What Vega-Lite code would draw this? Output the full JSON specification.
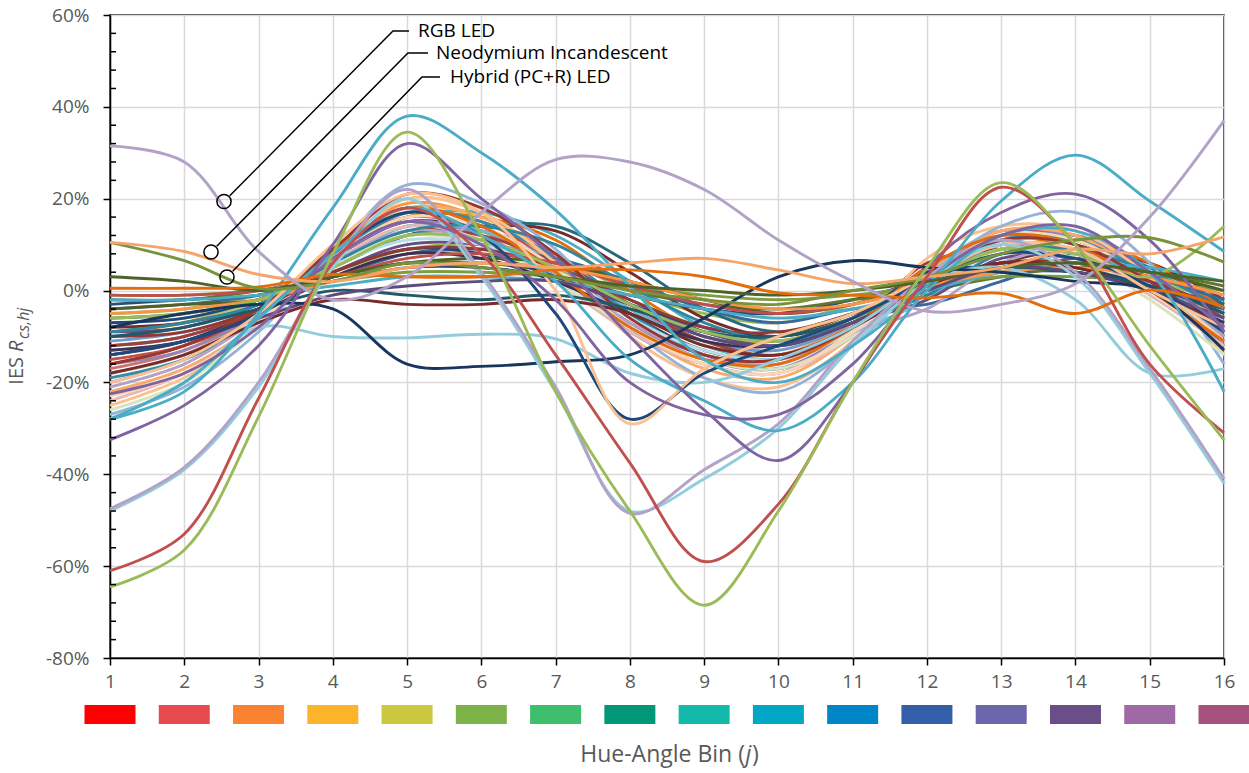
{
"$schema": "https://vega.github.io/schema/vega-lite/v6.json",
"width": 1114, "height": 643,
"autosize": {"type": "none"},
"padding": {"left": 110, "top": 15, "right": 25, "bottom": 115},
"background": "white",
"config": {"view": {"stroke": "black", "strokeWidth": 1.5}},
"datasets": {
"curves": [
{"s":1,"j":1,"v":-10},{"s":1,"j":2,"v":-8},{"s":1,"j":3,"v":-3},{"s":1,"j":4,"v":6},{"s":1,"j":5,"v":14},{"s":1,"j":6,"v":13},{"s":1,"j":7,"v":8},{"s":1,"j":8,"v":-3},{"s":1,"j":9,"v":-10},{"s":1,"j":10,"v":-12},{"s":1,"j":11,"v":-6},{"s":1,"j":12,"v":3},{"s":1,"j":13,"v":9},{"s":1,"j":14,"v":8},{"s":1,"j":15,"v":2},{"s":1,"j":16,"v":-6},
{"s":2,"j":1,"v":-15},{"s":2,"j":2,"v":-12},{"s":2,"j":3,"v":-5},{"s":2,"j":4,"v":8},{"s":2,"j":5,"v":17},{"s":2,"j":6,"v":15},{"s":2,"j":7,"v":6},{"s":2,"j":8,"v":-6},{"s":2,"j":9,"v":-14},{"s":2,"j":10,"v":-15},{"s":2,"j":11,"v":-7},{"s":2,"j":12,"v":5},{"s":2,"j":13,"v":12},{"s":2,"j":14,"v":10},{"s":2,"j":15,"v":3},{"s":2,"j":16,"v":-8},
{"s":3,"j":1,"v":-5},{"s":3,"j":2,"v":-4},{"s":3,"j":3,"v":-1},{"s":3,"j":4,"v":4},{"s":3,"j":5,"v":9},{"s":3,"j":6,"v":10},{"s":3,"j":7,"v":7},{"s":3,"j":8,"v":0},{"s":3,"j":9,"v":-5},{"s":3,"j":10,"v":-7},{"s":3,"j":11,"v":-3},{"s":3,"j":12,"v":2},{"s":3,"j":13,"v":6},{"s":3,"j":14,"v":6},{"s":3,"j":15,"v":2},{"s":3,"j":16,"v":-2},
{"s":4,"j":1,"v":-20},{"s":4,"j":2,"v":-15},{"s":4,"j":3,"v":-6},{"s":4,"j":4,"v":9},{"s":4,"j":5,"v":18},{"s":4,"j":6,"v":14},{"s":4,"j":7,"v":4},{"s":4,"j":8,"v":-9},{"s":4,"j":9,"v":-16},{"s":4,"j":10,"v":-18},{"s":4,"j":11,"v":-9},{"s":4,"j":12,"v":4},{"s":4,"j":13,"v":13},{"s":4,"j":14,"v":11},{"s":4,"j":15,"v":2},{"s":4,"j":16,"v":-12},
{"s":5,"j":1,"v":-12},{"s":5,"j":2,"v":-10},{"s":5,"j":3,"v":-4},{"s":5,"j":4,"v":7},{"s":5,"j":5,"v":16},{"s":5,"j":6,"v":17},{"s":5,"j":7,"v":12},{"s":5,"j":8,"v":2},{"s":5,"j":9,"v":-8},{"s":5,"j":10,"v":-12},{"s":5,"j":11,"v":-7},{"s":5,"j":12,"v":1},{"s":5,"j":13,"v":10},{"s":5,"j":14,"v":12},{"s":5,"j":15,"v":5},{"s":5,"j":16,"v":-5},
{"s":6,"j":1,"v":-18},{"s":6,"j":2,"v":-14},{"s":6,"j":3,"v":-5},{"s":6,"j":4,"v":9},{"s":6,"j":5,"v":19},{"s":6,"j":6,"v":16},{"s":6,"j":7,"v":8},{"s":6,"j":8,"v":-4},{"s":6,"j":9,"v":-12},{"s":6,"j":10,"v":-14},{"s":6,"j":11,"v":-7},{"s":6,"j":12,"v":4},{"s":6,"j":13,"v":13},{"s":6,"j":14,"v":12},{"s":6,"j":15,"v":4},{"s":6,"j":16,"v":-9},
{"s":7,"j":1,"v":-3},{"s":7,"j":2,"v":-2},{"s":7,"j":3,"v":-1},{"s":7,"j":4,"v":2},{"s":7,"j":5,"v":5},{"s":7,"j":6,"v":5},{"s":7,"j":7,"v":3},{"s":7,"j":8,"v":-1},{"s":7,"j":9,"v":-4},{"s":7,"j":10,"v":-5},{"s":7,"j":11,"v":-2},{"s":7,"j":12,"v":2},{"s":7,"j":13,"v":4},{"s":7,"j":14,"v":4},{"s":7,"j":15,"v":1},{"s":7,"j":16,"v":-3},
{"s":8,"j":1,"v":-8},{"s":8,"j":2,"v":-7},{"s":8,"j":3,"v":-3},{"s":8,"j":4,"v":5},{"s":8,"j":5,"v":12},{"s":8,"j":6,"v":14},{"s":8,"j":7,"v":13},{"s":8,"j":8,"v":4},{"s":8,"j":9,"v":-6},{"s":8,"j":10,"v":-10},{"s":8,"j":11,"v":-5},{"s":8,"j":12,"v":1},{"s":8,"j":13,"v":6},{"s":8,"j":14,"v":9},{"s":8,"j":15,"v":6},{"s":8,"j":16,"v":-2},
{"s":9,"j":1,"v":-2},{"s":9,"j":2,"v":-2},{"s":9,"j":3,"v":0},{"s":9,"j":4,"v":3},{"s":9,"j":5,"v":6},{"s":9,"j":6,"v":6},{"s":9,"j":7,"v":4},{"s":9,"j":8,"v":0},{"s":9,"j":9,"v":-3},{"s":9,"j":10,"v":-4},{"s":9,"j":11,"v":-2},{"s":9,"j":12,"v":0},{"s":9,"j":13,"v":3},{"s":9,"j":14,"v":5},{"s":9,"j":15,"v":4},{"s":9,"j":16,"v":1},
{"s":10,"j":1,"v":-14},{"s":10,"j":2,"v":-11},{"s":10,"j":3,"v":-4},{"s":10,"j":4,"v":7},{"s":10,"j":5,"v":15},{"s":10,"j":6,"v":13},{"s":10,"j":7,"v":6},{"s":10,"j":8,"v":-5},{"s":10,"j":9,"v":-13},{"s":10,"j":10,"v":-15},{"s":10,"j":11,"v":-8},{"s":10,"j":12,"v":3},{"s":10,"j":13,"v":10},{"s":10,"j":14,"v":9},{"s":10,"j":15,"v":2},{"s":10,"j":16,"v":-9},
{"s":11,"j":1,"v":-6},{"s":11,"j":2,"v":-5},{"s":11,"j":3,"v":-2},{"s":11,"j":4,"v":5},{"s":11,"j":5,"v":12},{"s":11,"j":6,"v":14},{"s":11,"j":7,"v":14},{"s":11,"j":8,"v":6},{"s":11,"j":9,"v":-4},{"s":11,"j":10,"v":-9},{"s":11,"j":11,"v":-5},{"s":11,"j":12,"v":-1},{"s":11,"j":13,"v":5},{"s":11,"j":14,"v":8},{"s":11,"j":15,"v":5},{"s":11,"j":16,"v":-3},
{"s":12,"j":1,"v":-9},{"s":12,"j":2,"v":-7},{"s":12,"j":3,"v":-2},{"s":12,"j":4,"v":7},{"s":12,"j":5,"v":16},{"s":12,"j":6,"v":16},{"s":12,"j":7,"v":11},{"s":12,"j":8,"v":0},{"s":12,"j":9,"v":-9},{"s":12,"j":10,"v":-11},{"s":12,"j":11,"v":-6},{"s":12,"j":12,"v":3},{"s":12,"j":13,"v":9},{"s":12,"j":14,"v":11},{"s":12,"j":15,"v":6},{"s":12,"j":16,"v":-4},
{"s":13,"j":1,"v":-11},{"s":13,"j":2,"v":-9},{"s":13,"j":3,"v":-4},{"s":13,"j":4,"v":5},{"s":13,"j":5,"v":12},{"s":13,"j":6,"v":11},{"s":13,"j":7,"v":5},{"s":13,"j":8,"v":-4},{"s":13,"j":9,"v":-11},{"s":13,"j":10,"v":-13},{"s":13,"j":11,"v":-7},{"s":13,"j":12,"v":2},{"s":13,"j":13,"v":9},{"s":13,"j":14,"v":8},{"s":13,"j":15,"v":2},{"s":13,"j":16,"v":-7},
{"s":14,"j":1,"v":-17},{"s":14,"j":2,"v":-13},{"s":14,"j":3,"v":-5},{"s":14,"j":4,"v":8},{"s":14,"j":5,"v":16},{"s":14,"j":6,"v":13},{"s":14,"j":7,"v":4},{"s":14,"j":8,"v":-7},{"s":14,"j":9,"v":-15},{"s":14,"j":10,"v":-16},{"s":14,"j":11,"v":-8},{"s":14,"j":12,"v":5},{"s":14,"j":13,"v":11},{"s":14,"j":14,"v":10},{"s":14,"j":15,"v":1},{"s":14,"j":16,"v":-11},
{"s":15,"j":1,"v":-7},{"s":15,"j":2,"v":-6},{"s":15,"j":3,"v":-3},{"s":15,"j":4,"v":3},{"s":15,"j":5,"v":8},{"s":15,"j":6,"v":8},{"s":15,"j":7,"v":4},{"s":15,"j":8,"v":-2},{"s":15,"j":9,"v":-8},{"s":15,"j":10,"v":-10},{"s":15,"j":11,"v":-6},{"s":15,"j":12,"v":0},{"s":15,"j":13,"v":6},{"s":15,"j":14,"v":5},{"s":15,"j":15,"v":0},{"s":15,"j":16,"v":-5},
{"s":16,"j":1,"v":-16},{"s":16,"j":2,"v":-13},{"s":16,"j":3,"v":-5},{"s":16,"j":4,"v":7},{"s":16,"j":5,"v":15},{"s":16,"j":6,"v":12},{"s":16,"j":7,"v":3},{"s":16,"j":8,"v":-7},{"s":16,"j":9,"v":-15},{"s":16,"j":10,"v":-17},{"s":16,"j":11,"v":-9},{"s":16,"j":12,"v":2},{"s":16,"j":13,"v":11},{"s":16,"j":14,"v":12},{"s":16,"j":15,"v":3},{"s":16,"j":16,"v":-10},
{"s":17,"j":1,"v":-13},{"s":17,"j":2,"v":-11},{"s":17,"j":3,"v":-5},{"s":17,"j":4,"v":6},{"s":17,"j":5,"v":14},{"s":17,"j":6,"v":13},{"s":17,"j":7,"v":6},{"s":17,"j":8,"v":-4},{"s":17,"j":9,"v":-12},{"s":17,"j":10,"v":-15},{"s":17,"j":11,"v":-9},{"s":17,"j":12,"v":-2},{"s":17,"j":13,"v":10},{"s":17,"j":14,"v":11},{"s":17,"j":15,"v":3},{"s":17,"j":16,"v":-8},
{"s":18,"j":1,"v":-22},{"s":18,"j":2,"v":-17},{"s":18,"j":3,"v":-7},{"s":18,"j":4,"v":8},{"s":18,"j":5,"v":18},{"s":18,"j":6,"v":16},{"s":18,"j":7,"v":6},{"s":18,"j":8,"v":-8},{"s":18,"j":9,"v":-17},{"s":18,"j":10,"v":-19},{"s":18,"j":11,"v":-10},{"s":18,"j":12,"v":4},{"s":18,"j":13,"v":13},{"s":18,"j":14,"v":12},{"s":18,"j":15,"v":2},{"s":18,"j":16,"v":-13},
{"s":19,"j":1,"v":-4},{"s":19,"j":2,"v":-3},{"s":19,"j":3,"v":-1},{"s":19,"j":4,"v":3},{"s":19,"j":5,"v":8},{"s":19,"j":6,"v":9},{"s":19,"j":7,"v":7},{"s":19,"j":8,"v":2},{"s":19,"j":9,"v":-4},{"s":19,"j":10,"v":-7},{"s":19,"j":11,"v":-4},{"s":19,"j":12,"v":-3},{"s":19,"j":13,"v":2},{"s":19,"j":14,"v":7},{"s":19,"j":15,"v":3},{"s":19,"j":16,"v":-2},
{"s":20,"j":1,"v":-12},{"s":20,"j":2,"v":-10},{"s":20,"j":3,"v":-4},{"s":20,"j":4,"v":6},{"s":20,"j":5,"v":13},{"s":20,"j":6,"v":12},{"s":20,"j":7,"v":6},{"s":20,"j":8,"v":-3},{"s":20,"j":9,"v":-11},{"s":20,"j":10,"v":-14},{"s":20,"j":11,"v":-8},{"s":20,"j":12,"v":6},{"s":20,"j":13,"v":9},{"s":20,"j":14,"v":9},{"s":20,"j":15,"v":3},{"s":20,"j":16,"v":-6},
{"s":21,"j":1,"v":-1},{"s":21,"j":2,"v":-1},{"s":21,"j":3,"v":0},{"s":21,"j":4,"v":2},{"s":21,"j":5,"v":4},{"s":21,"j":6,"v":4},{"s":21,"j":7,"v":3},{"s":21,"j":8,"v":1},{"s":21,"j":9,"v":-1},{"s":21,"j":10,"v":-2},{"s":21,"j":11,"v":-1},{"s":21,"j":12,"v":1},{"s":21,"j":13,"v":3},{"s":21,"j":14,"v":3},{"s":21,"j":15,"v":2},{"s":21,"j":16,"v":0},
{"s":22,"j":1,"v":-9},{"s":22,"j":2,"v":-8},{"s":22,"j":3,"v":-3},{"s":22,"j":4,"v":4},{"s":22,"j":5,"v":10},{"s":22,"j":6,"v":10},{"s":22,"j":7,"v":6},{"s":22,"j":8,"v":-2},{"s":22,"j":9,"v":-9},{"s":22,"j":10,"v":-12},{"s":22,"j":11,"v":-7},{"s":22,"j":12,"v":-2},{"s":22,"j":13,"v":7},{"s":22,"j":14,"v":7},{"s":22,"j":15,"v":2},{"s":22,"j":16,"v":-5},
{"s":23,"j":1,"v":-19},{"s":23,"j":2,"v":-15},{"s":23,"j":3,"v":-6},{"s":23,"j":4,"v":7},{"s":23,"j":5,"v":17},{"s":23,"j":6,"v":15},{"s":23,"j":7,"v":7},{"s":23,"j":8,"v":-5},{"s":23,"j":9,"v":-14},{"s":23,"j":10,"v":-17},{"s":23,"j":11,"v":-10},{"s":23,"j":12,"v":2},{"s":23,"j":13,"v":11},{"s":23,"j":14,"v":11},{"s":23,"j":15,"v":3},{"s":23,"j":16,"v":-10},
{"s":24,"j":1,"v":-25},{"s":24,"j":2,"v":-19},{"s":24,"j":3,"v":-8},{"s":24,"j":4,"v":7},{"s":24,"j":5,"v":20},{"s":24,"j":6,"v":17},{"s":24,"j":7,"v":6},{"s":24,"j":8,"v":-10},{"s":24,"j":9,"v":-19},{"s":24,"j":10,"v":-21},{"s":24,"j":11,"v":-11},{"s":24,"j":12,"v":7},{"s":24,"j":13,"v":14},{"s":24,"j":14,"v":13},{"s":24,"j":15,"v":3},{"s":24,"j":16,"v":-14},
{"s":25,"j":1,"v":-27},{"s":25,"j":2,"v":-21},{"s":25,"j":3,"v":-9},{"s":25,"j":4,"v":8},{"s":25,"j":5,"v":23},{"s":25,"j":6,"v":19},{"s":25,"j":7,"v":9},{"s":25,"j":8,"v":-8},{"s":25,"j":9,"v":-19},{"s":25,"j":10,"v":-22},{"s":25,"j":11,"v":-12},{"s":25,"j":12,"v":3},{"s":25,"j":13,"v":14},{"s":25,"j":14,"v":17},{"s":25,"j":15,"v":6},{"s":25,"j":16,"v":-16},
{"s":26,"j":1,"v":-24},{"s":26,"j":2,"v":-18},{"s":26,"j":3,"v":-7},{"s":26,"j":4,"v":6},{"s":26,"j":5,"v":14},{"s":26,"j":6,"v":11},{"s":26,"j":7,"v":2},{"s":26,"j":8,"v":-9},{"s":26,"j":9,"v":-16},{"s":26,"j":10,"v":-18},{"s":26,"j":11,"v":-10},{"s":26,"j":12,"v":2},{"s":26,"j":13,"v":10},{"s":26,"j":14,"v":8},{"s":26,"j":15,"v":-1},{"s":26,"j":16,"v":-12},
{"s":27,"j":1,"v":-26},{"s":27,"j":2,"v":-20},{"s":27,"j":3,"v":-8},{"s":27,"j":4,"v":5},{"s":27,"j":5,"v":12},{"s":27,"j":6,"v":10},{"s":27,"j":7,"v":2},{"s":27,"j":8,"v":-8},{"s":27,"j":9,"v":-15},{"s":27,"j":10,"v":-17},{"s":27,"j":11,"v":-10},{"s":27,"j":12,"v":1},{"s":27,"j":13,"v":9},{"s":27,"j":14,"v":7},{"s":27,"j":15,"v":-2},{"s":27,"j":16,"v":-14},
{"s":28,"j":1,"v":-21},{"s":28,"j":2,"v":-16},{"s":28,"j":3,"v":-6},{"s":28,"j":4,"v":6},{"s":28,"j":5,"v":13},{"s":28,"j":6,"v":11},{"s":28,"j":7,"v":3},{"s":28,"j":8,"v":-7},{"s":28,"j":9,"v":-14},{"s":28,"j":10,"v":-16},{"s":28,"j":11,"v":-9},{"s":28,"j":12,"v":-4},{"s":28,"j":13,"v":6},{"s":28,"j":14,"v":9},{"s":28,"j":15,"v":1},{"s":28,"j":16,"v":-10},
{"s":29,"j":1,"v":-18},{"s":29,"j":2,"v":-14},{"s":29,"j":3,"v":-6},{"s":29,"j":4,"v":5},{"s":29,"j":5,"v":11},{"s":29,"j":6,"v":10},{"s":29,"j":7,"v":4},{"s":29,"j":8,"v":-6},{"s":29,"j":9,"v":-13},{"s":29,"j":10,"v":-15},{"s":29,"j":11,"v":-9},{"s":29,"j":12,"v":1},{"s":29,"j":13,"v":8},{"s":29,"j":14,"v":8},{"s":29,"j":15,"v":1},{"s":29,"j":16,"v":-9},
{"s":30,"j":1,"v":-23},{"s":30,"j":2,"v":-18},{"s":30,"j":3,"v":-7},{"s":30,"j":4,"v":7},{"s":30,"j":5,"v":16},{"s":30,"j":6,"v":14},{"s":30,"j":7,"v":5},{"s":30,"j":8,"v":-8},{"s":30,"j":9,"v":-16},{"s":30,"j":10,"v":-18},{"s":30,"j":11,"v":-9},{"s":30,"j":12,"v":3},{"s":30,"j":13,"v":12},{"s":30,"j":14,"v":11},{"s":30,"j":15,"v":2},{"s":30,"j":16,"v":-11},
{"s":31,"j":1,"v":-7},{"s":31,"j":2,"v":-6},{"s":31,"j":3,"v":-2},{"s":31,"j":4,"v":4},{"s":31,"j":5,"v":9},{"s":31,"j":6,"v":8},{"s":31,"j":7,"v":3},{"s":31,"j":8,"v":-3},{"s":31,"j":9,"v":-8},{"s":31,"j":10,"v":-10},{"s":31,"j":11,"v":-6},{"s":31,"j":12,"v":4},{"s":31,"j":13,"v":5},{"s":31,"j":14,"v":5},{"s":31,"j":15,"v":1},{"s":31,"j":16,"v":-4},
{"s":32,"j":1,"v":-10},{"s":32,"j":2,"v":-9},{"s":32,"j":3,"v":-4},{"s":32,"j":4,"v":4},{"s":32,"j":5,"v":9},{"s":32,"j":6,"v":9},{"s":32,"j":7,"v":5},{"s":32,"j":8,"v":-2},{"s":32,"j":9,"v":-8},{"s":32,"j":10,"v":-9},{"s":32,"j":11,"v":-5},{"s":32,"j":12,"v":2},{"s":32,"j":13,"v":6},{"s":32,"j":14,"v":6},{"s":32,"j":15,"v":2},{"s":32,"j":16,"v":-4},
{"s":33,"j":1,"v":-4},{"s":33,"j":2,"v":-3},{"s":33,"j":3,"v":-2},{"s":33,"j":4,"v":3},{"s":33,"j":5,"v":6},{"s":33,"j":6,"v":7},{"s":33,"j":7,"v":6},{"s":33,"j":8,"v":2},{"s":33,"j":9,"v":-2},{"s":33,"j":10,"v":-5},{"s":33,"j":11,"v":-3},{"s":33,"j":12,"v":1},{"s":33,"j":13,"v":5},{"s":33,"j":14,"v":6},{"s":33,"j":15,"v":4},{"s":33,"j":16,"v":0},
{"s":34,"j":1,"v":-13},{"s":34,"j":2,"v":-11},{"s":34,"j":3,"v":-5},{"s":34,"j":4,"v":3},{"s":34,"j":5,"v":8},{"s":34,"j":6,"v":7},{"s":34,"j":7,"v":2},{"s":34,"j":8,"v":-5},{"s":34,"j":9,"v":-11},{"s":34,"j":10,"v":-12},{"s":34,"j":11,"v":-7},{"s":34,"j":12,"v":1},{"s":34,"j":13,"v":6},{"s":34,"j":14,"v":5},{"s":34,"j":15,"v":0},{"s":34,"j":16,"v":-7},
{"s":35,"j":1,"v":-9},{"s":35,"j":2,"v":-7},{"s":35,"j":3,"v":-3},{"s":35,"j":4,"v":6},{"s":35,"j":5,"v":13},{"s":35,"j":6,"v":14},{"s":35,"j":7,"v":10},{"s":35,"j":8,"v":1},{"s":35,"j":9,"v":-7},{"s":35,"j":10,"v":-11},{"s":35,"j":11,"v":-7},{"s":35,"j":12,"v":-1},{"s":35,"j":13,"v":8},{"s":35,"j":14,"v":9},{"s":35,"j":15,"v":4},{"s":35,"j":16,"v":-4},
{"s":36,"j":1,"v":-16},{"s":36,"j":2,"v":-12},{"s":36,"j":3,"v":-4},{"s":36,"j":4,"v":9},{"s":36,"j":5,"v":18},{"s":36,"j":6,"v":14},{"s":36,"j":7,"v":4},{"s":36,"j":8,"v":-8},{"s":36,"j":9,"v":-15},{"s":36,"j":10,"v":-16},{"s":36,"j":11,"v":-8},{"s":36,"j":12,"v":5},{"s":36,"j":13,"v":12},{"s":36,"j":14,"v":10},{"s":36,"j":15,"v":0},{"s":36,"j":16,"v":-11},
{"s":37,"j":1,"v":-1},{"s":37,"j":2,"v":-1},{"s":37,"j":3,"v":0},{"s":37,"j":4,"v":3},{"s":37,"j":5,"v":7},{"s":37,"j":6,"v":8},{"s":37,"j":7,"v":6},{"s":37,"j":8,"v":1},{"s":37,"j":9,"v":-3},{"s":37,"j":10,"v":-5},{"s":37,"j":11,"v":-3},{"s":37,"j":12,"v":1},{"s":37,"j":13,"v":5},{"s":37,"j":14,"v":6},{"s":37,"j":15,"v":3},{"s":37,"j":16,"v":-1},
{"s":38,"j":1,"v":-2},{"s":38,"j":2,"v":-2},{"s":38,"j":3,"v":-1},{"s":38,"j":4,"v":1},{"s":38,"j":5,"v":3},{"s":38,"j":6,"v":3},{"s":38,"j":7,"v":2},{"s":38,"j":8,"v":-1},{"s":38,"j":9,"v":-4},{"s":38,"j":10,"v":-6},{"s":38,"j":11,"v":-4},{"s":38,"j":12,"v":0},{"s":38,"j":13,"v":4},{"s":38,"j":14,"v":6},{"s":38,"j":15,"v":5},{"s":38,"j":16,"v":2},
{"s":39,"j":1,"v":-5},{"s":39,"j":2,"v":-4},{"s":39,"j":3,"v":-2},{"s":39,"j":4,"v":2},{"s":39,"j":5,"v":5},{"s":39,"j":6,"v":6},{"s":39,"j":7,"v":5},{"s":39,"j":8,"v":2},{"s":39,"j":9,"v":-2},{"s":39,"j":10,"v":-4},{"s":39,"j":11,"v":-3},{"s":39,"j":12,"v":1},{"s":39,"j":13,"v":4},{"s":39,"j":14,"v":5},{"s":39,"j":15,"v":3},{"s":39,"j":16,"v":-1},
{"s":40,"j":1,"v":-16},{"s":40,"j":2,"v":-12},{"s":40,"j":3,"v":-4},{"s":40,"j":4,"v":9},{"s":40,"j":5,"v":21},{"s":40,"j":6,"v":18},{"s":40,"j":7,"v":8},{"s":40,"j":8,"v":-6},{"s":40,"j":9,"v":-14},{"s":40,"j":10,"v":-15},{"s":40,"j":11,"v":-8},{"s":40,"j":12,"v":3},{"s":40,"j":13,"v":11},{"s":40,"j":14,"v":10},{"s":40,"j":15,"v":2},{"s":40,"j":16,"v":-9},
{"s":41,"j":1,"v":-18},{"s":41,"j":2,"v":-14},{"s":41,"j":3,"v":-7},{"s":41,"j":4,"v":-2},{"s":41,"j":5,"v":-3},{"s":41,"j":6,"v":-3},{"s":41,"j":7,"v":-2},{"s":41,"j":8,"v":-5},{"s":41,"j":9,"v":-12},{"s":41,"j":10,"v":-14},{"s":41,"j":11,"v":-8},{"s":41,"j":12,"v":1},{"s":41,"j":13,"v":6},{"s":41,"j":14,"v":5},{"s":41,"j":15,"v":0},{"s":41,"j":16,"v":-8},
{"s":42,"j":1,"v":-10},{"s":42,"j":2,"v":-8},{"s":42,"j":3,"v":-4},{"s":42,"j":4,"v":0},{"s":42,"j":5,"v":-1},{"s":42,"j":6,"v":-2},{"s":42,"j":7,"v":-1},{"s":42,"j":8,"v":-4},{"s":42,"j":9,"v":-9},{"s":42,"j":10,"v":-10},{"s":42,"j":11,"v":-6},{"s":42,"j":12,"v":2},{"s":42,"j":13,"v":5},{"s":42,"j":14,"v":4},{"s":42,"j":15,"v":1},{"s":42,"j":16,"v":-5},
{"s":43,"j":1,"v":-14},{"s":43,"j":2,"v":-11},{"s":43,"j":3,"v":-6},{"s":43,"j":4,"v":-1},{"s":43,"j":5,"v":1},{"s":43,"j":6,"v":2},{"s":43,"j":7,"v":2},{"s":43,"j":8,"v":-3},{"s":43,"j":9,"v":-10},{"s":43,"j":10,"v":-12},{"s":43,"j":11,"v":-7},{"s":43,"j":12,"v":0},{"s":43,"j":13,"v":5},{"s":43,"j":14,"v":4},{"s":43,"j":15,"v":0},{"s":43,"j":16,"v":-6},
{"s":44,"j":1,"v":-6},{"s":44,"j":2,"v":-5},{"s":44,"j":3,"v":-2},{"s":44,"j":4,"v":5},{"s":44,"j":5,"v":12},{"s":44,"j":6,"v":11},{"s":44,"j":7,"v":5},{"s":44,"j":8,"v":-3},{"s":44,"j":9,"v":-9},{"s":44,"j":10,"v":-11},{"s":44,"j":11,"v":-6},{"s":44,"j":12,"v":2},{"s":44,"j":13,"v":9},{"s":44,"j":14,"v":8},{"s":44,"j":15,"v":3},{"s":44,"j":16,"v":14},
{"s":45,"j":1,"v":-28},{"s":45,"j":2,"v":-20},{"s":45,"j":3,"v":-8},{"s":45,"j":4,"v":-10},{"s":45,"j":5,"v":-10.3},{"s":45,"j":6,"v":-9.5},{"s":45,"j":7,"v":-10.5},{"s":45,"j":8,"v":-18},{"s":45,"j":9,"v":-20},{"s":45,"j":10,"v":-15},{"s":45,"j":11,"v":-8},{"s":45,"j":12,"v":2},{"s":45,"j":13,"v":5},{"s":45,"j":14,"v":-2},{"s":45,"j":15,"v":-18},{"s":45,"j":16,"v":-17},
{"s":46,"j":1,"v":-8},{"s":46,"j":2,"v":-5},{"s":46,"j":3,"v":-3},{"s":46,"j":4,"v":-4},{"s":46,"j":5,"v":-16},{"s":46,"j":6,"v":-16.5},{"s":46,"j":7,"v":-15.5},{"s":46,"j":8,"v":-14},{"s":46,"j":9,"v":-6},{"s":46,"j":10,"v":3},{"s":46,"j":11,"v":6.5},{"s":46,"j":12,"v":5},{"s":46,"j":13,"v":4},{"s":46,"j":14,"v":2},{"s":46,"j":15,"v":0},{"s":46,"j":16,"v":-13},
{"s":47,"j":1,"v":-14},{"s":47,"j":2,"v":-11},{"s":47,"j":3,"v":-5},{"s":47,"j":4,"v":8},{"s":47,"j":5,"v":17},{"s":47,"j":6,"v":12},{"s":47,"j":7,"v":-5},{"s":47,"j":8,"v":-28},{"s":47,"j":9,"v":-18},{"s":47,"j":10,"v":-12},{"s":47,"j":11,"v":-6},{"s":47,"j":12,"v":2},{"s":47,"j":13,"v":8},{"s":47,"j":14,"v":7},{"s":47,"j":15,"v":1},{"s":47,"j":16,"v":-9},
{"s":48,"j":1,"v":-20},{"s":48,"j":2,"v":-15},{"s":48,"j":3,"v":-5},{"s":48,"j":4,"v":10},{"s":48,"j":5,"v":21},{"s":48,"j":6,"v":17},{"s":48,"j":7,"v":0},{"s":48,"j":8,"v":-29},{"s":48,"j":9,"v":-17},{"s":48,"j":10,"v":-10},{"s":48,"j":11,"v":-5},{"s":48,"j":12,"v":3},{"s":48,"j":13,"v":10},{"s":48,"j":14,"v":9},{"s":48,"j":15,"v":0},{"s":48,"j":16,"v":-8},
{"s":49,"j":1,"v":-48},{"s":49,"j":2,"v":-39},{"s":49,"j":3,"v":-21},{"s":49,"j":4,"v":5},{"s":49,"j":5,"v":20},{"s":49,"j":6,"v":3},{"s":49,"j":7,"v":-22},{"s":49,"j":8,"v":-48},{"s":49,"j":9,"v":-41},{"s":49,"j":10,"v":-30},{"s":49,"j":11,"v":-12},{"s":49,"j":12,"v":2},{"s":49,"j":13,"v":10},{"s":49,"j":14,"v":3},{"s":49,"j":15,"v":-18},{"s":49,"j":16,"v":-42},
{"s":50,"j":1,"v":-47.5},{"s":50,"j":2,"v":-38.5},{"s":50,"j":3,"v":-20},{"s":50,"j":4,"v":6},{"s":50,"j":5,"v":22},{"s":50,"j":6,"v":4},{"s":50,"j":7,"v":-21},{"s":50,"j":8,"v":-48.5},{"s":50,"j":9,"v":-39},{"s":50,"j":10,"v":-29},{"s":50,"j":11,"v":-11},{"s":50,"j":12,"v":3},{"s":50,"j":13,"v":11},{"s":50,"j":14,"v":4},{"s":50,"j":15,"v":-17},{"s":50,"j":16,"v":-41},
{"s":51,"j":1,"v":-28},{"s":51,"j":2,"v":-20},{"s":51,"j":3,"v":-6},{"s":51,"j":4,"v":8},{"s":51,"j":5,"v":18},{"s":51,"j":6,"v":12},{"s":51,"j":7,"v":2},{"s":51,"j":8,"v":-15},{"s":51,"j":9,"v":-24},{"s":51,"j":10,"v":-30.5},{"s":51,"j":11,"v":-20},{"s":51,"j":12,"v":0},{"s":51,"j":13,"v":12},{"s":51,"j":14,"v":13},{"s":51,"j":15,"v":4},{"s":51,"j":16,"v":-22},
{"s":52,"j":1,"v":-22.5},{"s":52,"j":2,"v":-18},{"s":52,"j":3,"v":-8},{"s":52,"j":4,"v":7},{"s":52,"j":5,"v":15},{"s":52,"j":6,"v":10},{"s":52,"j":7,"v":-2},{"s":52,"j":8,"v":-20},{"s":52,"j":9,"v":-27},{"s":52,"j":10,"v":-27},{"s":52,"j":11,"v":-16},{"s":52,"j":12,"v":2},{"s":52,"j":13,"v":12},{"s":52,"j":14,"v":14},{"s":52,"j":15,"v":4},{"s":52,"j":16,"v":-8},
{"s":53,"j":1,"v":-32.5},{"s":53,"j":2,"v":-25},{"s":53,"j":3,"v":-12},{"s":53,"j":4,"v":10},{"s":53,"j":5,"v":32},{"s":53,"j":6,"v":20},{"s":53,"j":7,"v":7},{"s":53,"j":8,"v":-10},{"s":53,"j":9,"v":-26},{"s":53,"j":10,"v":-37},{"s":53,"j":11,"v":-20},{"s":53,"j":12,"v":5},{"s":53,"j":13,"v":17},{"s":53,"j":14,"v":21},{"s":53,"j":15,"v":11},{"s":53,"j":16,"v":-9},
{"s":54,"j":1,"v":-28},{"s":54,"j":2,"v":-22},{"s":54,"j":3,"v":-5},{"s":54,"j":4,"v":18},{"s":54,"j":5,"v":38},{"s":54,"j":6,"v":30},{"s":54,"j":7,"v":17.5},{"s":54,"j":8,"v":1},{"s":54,"j":9,"v":-15},{"s":54,"j":10,"v":-20},{"s":54,"j":11,"v":-12},{"s":54,"j":12,"v":1},{"s":54,"j":13,"v":19.5},{"s":54,"j":14,"v":29.5},{"s":54,"j":15,"v":19.5},{"s":54,"j":16,"v":8.5},
{"s":55,"j":1,"v":3},{"s":55,"j":2,"v":2},{"s":55,"j":3,"v":0},{"s":55,"j":4,"v":3},{"s":55,"j":5,"v":6},{"s":55,"j":6,"v":5},{"s":55,"j":7,"v":3},{"s":55,"j":8,"v":1},{"s":55,"j":9,"v":0},{"s":55,"j":10,"v":-1},{"s":55,"j":11,"v":0},{"s":55,"j":12,"v":2},{"s":55,"j":13,"v":5},{"s":55,"j":14,"v":6},{"s":55,"j":15,"v":4},{"s":55,"j":16,"v":2},
{"s":56,"j":1,"v":0.5},{"s":56,"j":2,"v":0.5},{"s":56,"j":3,"v":0.8},{"s":56,"j":4,"v":3.5},{"s":56,"j":5,"v":3},{"s":56,"j":6,"v":3},{"s":56,"j":7,"v":4.5},{"s":56,"j":8,"v":4.5},{"s":56,"j":9,"v":3},{"s":56,"j":10,"v":-0.5},{"s":56,"j":11,"v":-1},{"s":56,"j":12,"v":-1.6},{"s":56,"j":13,"v":-0.6},{"s":56,"j":14,"v":-5},{"s":56,"j":15,"v":0.1},{"s":56,"j":16,"v":-3.6},
{"s":57,"j":1,"v":10.5},{"s":57,"j":2,"v":6.5},{"s":57,"j":3,"v":0.5},{"s":57,"j":4,"v":2},{"s":57,"j":5,"v":6},{"s":57,"j":6,"v":5},{"s":57,"j":7,"v":3},{"s":57,"j":8,"v":0},{"s":57,"j":9,"v":-2},{"s":57,"j":10,"v":-3},{"s":57,"j":11,"v":0},{"s":57,"j":12,"v":3},{"s":57,"j":13,"v":8},{"s":57,"j":14,"v":11},{"s":57,"j":15,"v":11.5},{"s":57,"j":16,"v":6.2},
{"s":58,"j":1,"v":10.5},{"s":58,"j":2,"v":8.5},{"s":58,"j":3,"v":3.5},{"s":58,"j":4,"v":2},{"s":58,"j":5,"v":5},{"s":58,"j":6,"v":6},{"s":58,"j":7,"v":5},{"s":58,"j":8,"v":6},{"s":58,"j":9,"v":7},{"s":58,"j":10,"v":4.5},{"s":58,"j":11,"v":1.5},{"s":58,"j":12,"v":3},{"s":58,"j":13,"v":5},{"s":58,"j":14,"v":9},{"s":58,"j":15,"v":8},{"s":58,"j":16,"v":11.7},
{"s":59,"j":1,"v":31.5},{"s":59,"j":2,"v":28},{"s":59,"j":3,"v":8.5},{"s":59,"j":4,"v":-2},{"s":59,"j":5,"v":3},{"s":59,"j":6,"v":17},{"s":59,"j":7,"v":28.5},{"s":59,"j":8,"v":28},{"s":59,"j":9,"v":22},{"s":59,"j":10,"v":11},{"s":59,"j":11,"v":2},{"s":59,"j":12,"v":-4.5},{"s":59,"j":13,"v":-3},{"s":59,"j":14,"v":1.5},{"s":59,"j":15,"v":16},{"s":59,"j":16,"v":37},
{"s":60,"j":1,"v":-61},{"s":60,"j":2,"v":-53},{"s":60,"j":3,"v":-23.5},{"s":60,"j":4,"v":6},{"s":60,"j":5,"v":18},{"s":60,"j":6,"v":8},{"s":60,"j":7,"v":-14},{"s":60,"j":8,"v":-37.5},{"s":60,"j":9,"v":-59},{"s":60,"j":10,"v":-46.5},{"s":60,"j":11,"v":-20},{"s":60,"j":12,"v":3},{"s":60,"j":13,"v":22.5},{"s":60,"j":14,"v":10},{"s":60,"j":15,"v":-16},{"s":60,"j":16,"v":-31},
{"s":61,"j":1,"v":-64.5},{"s":61,"j":2,"v":-56.5},{"s":61,"j":3,"v":-27.5},{"s":61,"j":4,"v":8},{"s":61,"j":5,"v":34.5},{"s":61,"j":6,"v":12},{"s":61,"j":7,"v":-22},{"s":61,"j":8,"v":-48},{"s":61,"j":9,"v":-68.5},{"s":61,"j":10,"v":-48},{"s":61,"j":11,"v":-20},{"s":61,"j":12,"v":5},{"s":61,"j":13,"v":23.5},{"s":61,"j":14,"v":10},{"s":61,"j":15,"v":-12},{"s":61,"j":16,"v":-32.5}
],
"minor": [{"m":56},{"m":52},{"m":48},{"m":44},{"m":36},{"m":32},{"m":28},{"m":24},{"m":16},{"m":12},{"m":8},{"m":4},{"m":-4},{"m":-8},{"m":-12},{"m":-16},{"m":-24},{"m":-28},{"m":-32},{"m":-36},{"m":-44},{"m":-48},{"m":-52},{"m":-56},{"m":-64},{"m":-68},{"m":-72},{"m":-76}],
"bins": [{"j":1},{"j":2},{"j":3},{"j":4},{"j":5},{"j":6},{"j":7},{"j":8},{"j":9},{"j":10},{"j":11},{"j":12},{"j":13},{"j":14},{"j":15},{"j":16}],
"leaders": [
{"g":"a","o":1,"x":2.612,"y":20.64},{"g":"a","o":2,"x":4.810,"y":56.52},{"g":"a","o":3,"x":5.026,"y":56.52},
{"g":"b","o":1,"x":2.437,"y":9.64},{"g":"b","o":2,"x":5.012,"y":51.73},{"g":"b","o":3,"x":5.282,"y":51.73},
{"g":"c","o":1,"x":2.652,"y":4.2},{"g":"c","o":2,"x":5.201,"y":46.5},{"g":"c","o":3,"x":5.443,"y":46.5}
],
"circles": [{"x":2.535,"y":19.4},{"x":2.360,"y":8.4},{"x":2.575,"y":2.96}],
"labels": [{"x":5.147,"y":56.52,"t":"RGB LED"},{"x":5.389,"y":51.73,"t":"Neodymium Incandescent"},{"x":5.578,"y":46.5,"t":"Hybrid (PC+R) LED"}]
},
"layer": [
{
"data": {"name": "curves"},
"mark": {"type": "line", "interpolate": "catmull-rom", "strokeWidth": 2.9},
"encoding": {
"x": {"field": "j", "type": "quantitative", "title": null,
 "scale": {"domain": [1, 16], "nice": false, "zero": false},
 "axis": {"values": [1,2,3,4,5,6,7,8,9,10,11,12,13,14,15,16], "format": "d", "tickSize": 7, "tickWidth": 1.5, "tickColor": "black", "domainColor": "black", "domainWidth": 1.5, "labelFont": "Open Sans", "labelFontSize": 19, "labelColor": "#595959", "labelPadding": 7, "grid": true, "gridColor": "#D9D9D9", "gridWidth": 1.5, "labelFlush": false}},
"y": {"field": "v", "type": "quantitative", "title": null,
 "scale": {"domain": [-80, 60], "nice": false, "zero": false},
 "axis": {"values": [-80,-60,-40,-20,0,20,40,60], "labelExpr": "datum.value + '%'", "tickSize": 7, "tickWidth": 1.5, "tickColor": "black", "domainColor": "black", "domainWidth": 1.5, "labelFont": "Open Sans", "labelFontSize": 19, "labelColor": "#595959", "labelPadding": 14, "grid": true, "gridColor": "#D9D9D9", "gridWidth": 1.5}},
"stroke": {"field": "s", "type": "nominal", "legend": null,
 "scale": {"domain": [1,2,3,4,5,6,7,8,9,10,11,12,13,14,15,16,17,18,19,20,21,22,23,24,25,26,27,28,29,30,31,32,33,34,35,36,37,38,39,40,41,42,43,44,45,46,47,48,49,50,51,52,53,54,55,56,57,58,59,60,61],
 "range": ["#4F81BD","#C0504D","#9BBB59","#8064A2","#4BACC6","#F79646","#2C4D75","#772C2A","#5F7530","#4D3B62","#276A7C","#E46C0A","#729ACA","#CD7371","#AFC97A","#9983B5","#6FBDD1","#F9AB6B","#3A679C","#A0403D","#7E9D40","#664F83","#358EA6","#FAC090","#95B3D7","#E6B9B8","#D7E4BD","#B3A2C7","#B7DEE8","#FCD5B5","#1F497D","#953735","#4F6228","#403151","#31859C","#E46C0A","#C0504D","#4BACC6","#F79646","#953735","#772C2A","#215968","#604A7B","#9BBB59","#93CDDD","#17375E","#1F497D","#FAC090","#93CDDD","#B3A2C7","#4BACC6","#8064A2","#8064A2","#4BACC6","#4F6228","#E46C0A","#77933C","#F5A46A","#B3A2C7","#C0504D","#9BBB59"]}}
}
},
{
"data": {"name": "minor"},
"mark": {"type": "rule", "color": "black", "strokeWidth": 1.5},
"encoding": {
"x": {"datum": 1, "scale": {"domain": [1, 16], "nice": false, "zero": false}, "title": null},
"x2": {"datum": 1.081},
"y": {"field": "m", "type": "quantitative", "title": null, "scale": {"domain": [-80, 60], "nice": false, "zero": false}}
}
},
{
"data": {"name": "bins"},
"mark": {"type": "rect", "width": 51, "height": 19},
"encoding": {
"x": {"field": "j", "type": "quantitative", "title": null, "scale": {"domain": [1, 16], "nice": false, "zero": false}},
"y": {"datum": -92.3, "title": null, "scale": {"domain": [-80, 60], "nice": false, "zero": false}},
"fill": {"field": "j", "type": "nominal", "legend": null,
 "scale": {"domain": [1,2,3,4,5,6,7,8,9,10,11,12,13,14,15,16],
 "range": ["#FF0000","#E84B4F","#FA8230","#FDB32A","#CBC73F","#7DB248","#3FBE6E","#009877","#13BAA9","#00A6C3","#0085C6","#335FA8","#6C66AC","#694E87","#9E69A4","#A5507D"]}}
}
},
{
"data": {"name": "leaders"},
"mark": {"type": "line", "color": "black", "strokeWidth": 1.5, "interpolate": "linear"},
"encoding": {
"x": {"field": "x", "type": "quantitative", "title": null, "scale": {"domain": [1, 16], "nice": false, "zero": false}},
"y": {"field": "y", "type": "quantitative", "title": null, "scale": {"domain": [-80, 60], "nice": false, "zero": false}},
"detail": {"field": "g"},
"order": {"field": "o"}
}
},
{
"data": {"name": "circles"},
"mark": {"type": "point", "shape": "circle", "size": 200, "filled": false, "stroke": "black", "strokeWidth": 1.5, "opacity": 1},
"encoding": {
"x": {"field": "x", "type": "quantitative", "title": null, "scale": {"domain": [1, 16], "nice": false, "zero": false}},
"y": {"field": "y", "type": "quantitative", "title": null, "scale": {"domain": [-80, 60], "nice": false, "zero": false}}
}
},
{
"data": {"name": "labels"},
"mark": {"type": "text", "align": "left", "baseline": "middle", "font": "Open Sans", "fontSize": 19, "color": "black"},
"encoding": {
"x": {"field": "x", "type": "quantitative", "title": null, "scale": {"domain": [1, 16], "nice": false, "zero": false}},
"y": {"field": "y", "type": "quantitative", "title": null, "scale": {"domain": [-80, 60], "nice": false, "zero": false}},
"text": {"field": "t"}
}
},
{
"data": {"values": [{}]},
"mark": {"type": "text", "text": "IES", "angle": 270, "align": "right", "baseline": "alphabetic", "font": "Open Sans", "fontSize": 20, "color": "#595959"},
"encoding": {"x": {"datum": -0.1714, "title": null}, "y": {"datum": -14.46, "title": null}}
},
{
"data": {"values": [{}]},
"mark": {"type": "text", "text": "R", "angle": 270, "align": "left", "baseline": "alphabetic", "font": "Open Sans", "fontSize": 20, "fontStyle": "italic", "color": "#595959"},
"encoding": {"x": {"datum": -0.1714, "title": null}, "y": {"datum": -13.37, "title": null}}
},
{
"data": {"values": [{}]},
"mark": {"type": "text", "text": "cs,hj", "angle": 270, "align": "left", "baseline": "alphabetic", "font": "Open Sans", "fontSize": 16, "fontStyle": "italic", "color": "#595959"},
"encoding": {"x": {"datum": -0.0906, "title": null}, "y": {"datum": -10.54, "title": null}}
},
{
"data": {"values": [{}]},
"mark": {"type": "text", "text": "Hue-Angle Bin (", "align": "right", "baseline": "alphabetic", "font": "Open Sans", "fontSize": 23, "color": "#595959"},
"encoding": {"x": {"datum": 9.550, "title": null}, "y": {"datum": -102.6, "title": null}}
},
{
"data": {"values": [{}]},
"mark": {"type": "text", "text": "j", "align": "left", "baseline": "alphabetic", "font": "Open Sans", "fontSize": 23, "fontStyle": "italic", "color": "#595959"},
"encoding": {"x": {"datum": 9.557, "title": null}, "y": {"datum": -102.6, "title": null}}
},
{
"data": {"values": [{}]},
"mark": {"type": "text", "text": ")", "align": "left", "baseline": "alphabetic", "font": "Open Sans", "fontSize": 23, "color": "#595959"},
"encoding": {"x": {"datum": 9.644, "title": null}, "y": {"datum": -102.6, "title": null}}
}
]
}
